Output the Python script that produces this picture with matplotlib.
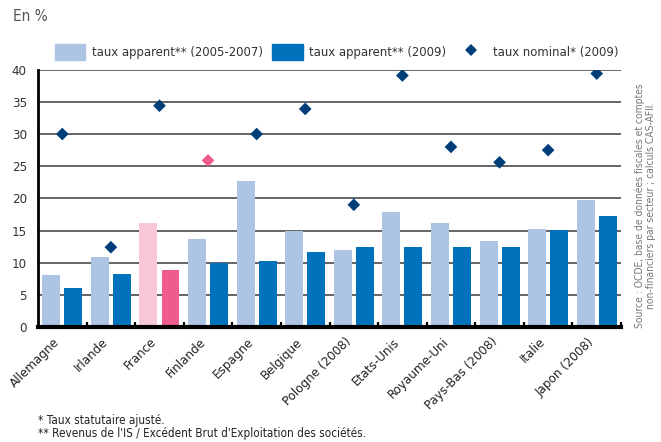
import numpy as np
import matplotlib
matplotlib.use("Agg")
import matplotlib.pyplot as plt
from matplotlib.patches import Patch
from matplotlib.lines import Line2D

plt.rcParams['font.family'] = ['DejaVu Sans']
plt.rcParams['font.stretch'] = 'condensed'

pays = ["Allemagne", "Irlande", "France", "Finlande", "Espagne", "Belgique",
        "Pologne (2008)", "Etats-Unis", "Royaume-Uni", "Pays-Bas (2008)",
        "Italie", "Japon (2008)"]
apparent_0507 = [8.1, 10.9, 16.2, 13.7, 22.7, 14.9, 11.9, 17.9, 16.2, 13.4, 15.3, 19.8]
apparent_2009 = [6.0, 8.3, 8.8, 9.9, 10.3, 11.7, 12.5, 12.5, 12.5, 12.5, 15.1, 17.3]
nominal_2009 = [30.0, 12.4, 34.4, 25.9, 30.0, 33.9, 19.0, 39.1, 28.0, 25.6, 27.5, 39.4]

bleu_clair = '#aec4e5'
bleu = '#0072bc'
marine = '#003e7a'
rose_clair = '#f7c9d6'
rose = '#ef5b8b'

fig = plt.figure(figsize=(6.61, 4.42), dpi=100)
ax = fig.add_axes([0.0575, 0.2602, 0.882, 0.5821])

x = np.arange(len(pays))
w = 0.37
d = 0.227

c1 = [rose_clair if p == "France" else bleu_clair for p in pays]
c2 = [rose if p == "France" else bleu for p in pays]
ax.bar(x - d, apparent_0507, w, color=c1, zorder=3)
ax.bar(x + d, apparent_2009, w, color=c2, zorder=3)

# losange rose sur la Finlande, comme dans la publication
c3 = [rose if p == "Finlande" else marine for p in pays]
ax.scatter(x, nominal_2009, marker='D', s=42, c=c3, linewidths=0, zorder=4)

ax.set_xlim(-0.5, len(pays) - 0.5)
ax.set_ylim(0, 40)
ax.set_yticks(range(0, 41, 5))
ax.yaxis.grid(True, color='#4a4a4a', lw=1.2, zorder=0)
ax.set_axisbelow(True)

for s in ['top', 'right']:
    ax.spines[s].set_visible(False)
ax.spines['left'].set_linewidth(2)
ax.spines['bottom'].set_linewidth(3)
ax.spines['bottom'].set_zorder(5)

ax.tick_params(axis='y', length=0, pad=8, labelsize=9.5, labelcolor='#333333')

ax.set_xticks(x)
ax.set_xticklabels(pays, rotation=45, ha='right', va='top', fontsize=9.5, color='#222222')
ax.tick_params(axis='x', which='major', length=0, pad=6)
# petits traits entre les groupes
ax.set_xticks(np.arange(0.5, len(pays), 1.0), minor=True)
ax.tick_params(axis='x', which='minor', direction='in', length=3.5, width=1.6, color='black')

handles = [Patch(color=bleu_clair), Patch(color=bleu),
           Line2D([], [], marker='D', color=marine, ls='none', markersize=6.5, markeredgewidth=0)]
labels = ["taux apparent** (2005-2007)", "taux apparent** (2009)", "taux nominal* (2009)"]
fig.legend(handles, labels, ncol=3, loc='center left', bbox_to_anchor=(0.065, 0.882),
           frameon=False, fontsize=9.4, handlelength=2.35, handleheight=1.45,
           handletextpad=0.5, columnspacing=0.7, labelcolor='#333333')

fig.text(0.02, 0.963, "En %", fontsize=11, color='#555555', va='center')

fig.text(0.976, 0.258, "Source : OCDE, base de données fiscales et comptes\n"
         "non-financiers par secteur ; calculs CAS-AFII.",
         rotation=90, fontsize=7.4, color='#777777', ha='center', va='bottom',
         linespacing=1.05)

fig.text(0.057, 0.034, "* Taux statutaire ajusté.\n"
         "** Revenus de l'IS / Excédent Brut d'Exploitation des sociétés.",
         fontsize=8.4, color='#222222', va='center', linespacing=1.05)

fig.savefig("out.png", dpi=100)
